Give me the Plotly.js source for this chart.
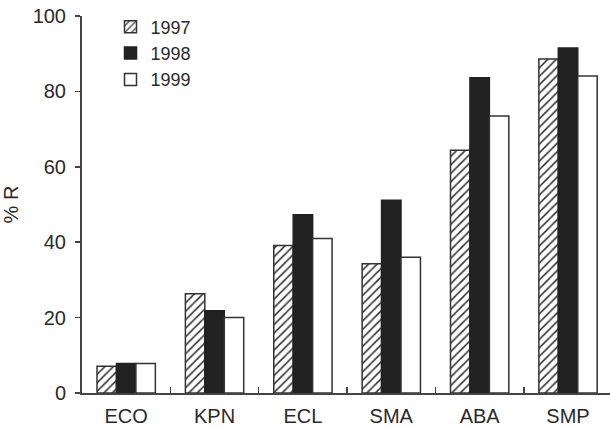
<!DOCTYPE html>
<html>
<head>
<meta charset="utf-8">
<script src="https://cdn.plot.ly/plotly-3.0.1.min.js"></script>
<style>html,body{margin:0;padding:0;background:#fff;}#chart{width:610px;height:428px;}</style>
</head>
<body>
<div id="chart"></div>
<script>
const categories = ["ECO", "KPN", "ECL", "SMA", "ABA", "SMP"];
const years = ["1997", "1998", "1999"];
const values1997 = [7.1, 26.3, 39.1, 34.3, 64.4, 88.6];
const values1998 = [7.8, 21.8, 47.3, 51.1, 83.6, 91.5];
const values1999 = [7.8, 20.0, 41.0, 36.0, 73.5, 84.1];
const yTicks = [0, 20, 40, 60, 80, 100];

const edge = '#333333';
const traces = [
  {type: 'bar', name: years[0], x: categories, y: values1997,
   marker: {color: '#ffffff', line: {color: edge, width: 1.5},
            pattern: {shape: '/', size: 6, solidity: 0.25, fgcolor: '#2a2a2a', bgcolor: '#ffffff'}}},
  {type: 'bar', name: years[1], x: categories, y: values1998,
   marker: {color: '#222222', line: {color: '#222222', width: 1.5}}},
  {type: 'bar', name: years[2], x: categories, y: values1999,
   marker: {color: '#ffffff', line: {color: edge, width: 1.5}}}
];

const layout = {
  width: 610, height: 428,
  margin: {l: 82.4, r: 0, t: 16, b: 35},
  paper_bgcolor: '#ffffff', plot_bgcolor: '#ffffff',
  font: {family: 'Liberation Sans, Arial, sans-serif', color: '#2a2a2a'},
  barmode: 'group', bargap: 0.34, bargroupgap: 0,
  showlegend: true,
  legend: {x: 0.054, y: 1.02, xanchor: 'left', yanchor: 'top',
           font: {size: 18, color: '#2a2a2a'}, bgcolor: 'rgba(0,0,0,0)', tracegroupgap: 0},
  xaxis: {type: 'category', range: [-0.5, 5.475], showgrid: false, zeroline: false,
          showline: true, linecolor: '#444', linewidth: 2,
          ticks: 'inside', tickson: 'boundaries', ticklen: 6, tickwidth: 1.5, tickcolor: '#444',
          ticklabelstandoff: 4,
          tickfont: {size: 20, color: '#2a2a2a'}, fixedrange: true},
  yaxis: {range: [0, 100], tickvals: yTicks, showgrid: false, zeroline: false,
          showline: true, linecolor: '#444', linewidth: 2,
          ticks: 'outside', ticklen: 5, tickwidth: 1.5, tickcolor: '#444',
          ticklabelstandoff: 5,
          tickfont: {size: 20, color: '#2a2a2a'},
          title: {text: '% R', font: {size: 20, color: '#2a2a2a'}, standoff: 11}, fixedrange: true}
};

Plotly.newPlot('chart', traces, layout, {displayModeBar: false, staticPlot: true});
</script>
</body>
</html>
